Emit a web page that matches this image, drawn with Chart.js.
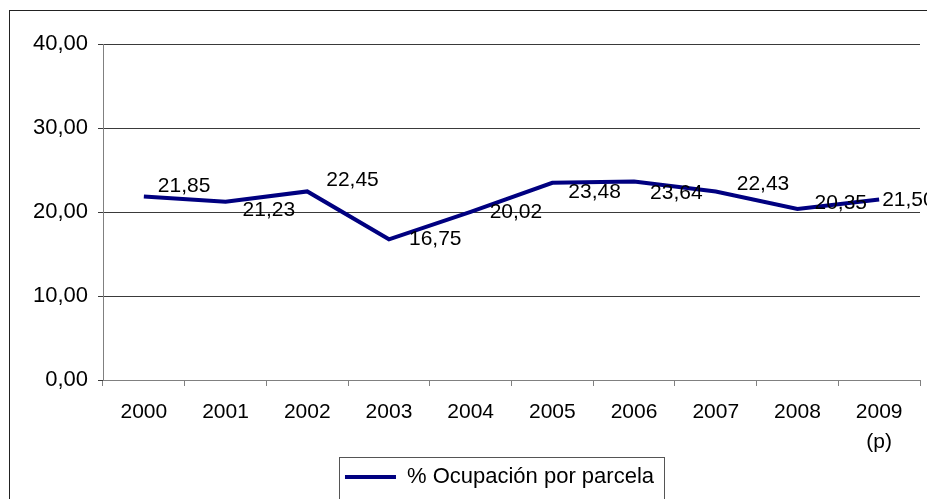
<!DOCTYPE html>
<html>
<head>
<meta charset="utf-8">
<script src="https://cdn.jsdelivr.net/npm/chart.js@4.4.1/dist/chart.umd.min.js"></script>
<style>
  html, body { margin: 0; padding: 0; background: #fff; }
  canvas { display: block; }
</style>
</head>
<body>
<canvas id="ocupacion" width="927" height="499"></canvas>
<script>
var years = ["2000", "2001", "2002", "2003", "2004", "2005", "2006", "2007", "2008", ["2009", "(p)"]];
var ocupacion = [21.85, 21.23, 22.45, 16.75, 20.02, 23.48, 23.64, 22.43, 20.35, 21.50];
var serieName = "% Ocupación por parcela";

function coma(v) {
    return Number(v).toFixed(2).replace(".", ",");
}

// labels sit to the right of each point, nudged like in the original sheet
var labelDx = [14, 17, 19, 20, 19, 16, 16, 21, 17, 3];
var labelDy = [-10, 9, -11, 0, 0, 9, 12, -7, -6, 1];

var valueLabels = {
    id: "valueLabels",
    afterDatasetsDraw: function (chart) {
        var ctx = chart.ctx;
        var meta = chart.getDatasetMeta(0);
        ctx.save();
        ctx.font = "21px 'Liberation Sans', Arial, sans-serif";
        ctx.fillStyle = "#000";
        ctx.textAlign = "left";
        ctx.textBaseline = "middle";
        meta.data.forEach(function (pt, i) {
            ctx.fillText(coma(chart.data.datasets[0].data[i]), pt.x + labelDx[i], pt.y + labelDy[i]);
        });
        ctx.restore();
    }
};

var frames = {
    id: "frames",
    afterLayout: function (chart) {
        // legend sits a bit left of the plot centre
        chart.legend.left -= 12;
        chart.legend.right -= 12;
    },
    afterDraw: function (chart) {
        var ctx = chart.ctx;
        ctx.save();
        ctx.lineWidth = 1;
        ctx.strokeStyle = "#222";
        ctx.strokeRect(9.5, 10.5, 1200, 1200);
        var hb = chart.legend.legendHitBoxes[0];
        if (hb) {
            ctx.strokeStyle = "#555";
            var l = Math.round(hb.left - 6) + 0.5;
            var t = Math.round(hb.top - 9) + 0.5;
            var r = Math.round(hb.left + hb.width + 10) + 0.5;
            ctx.strokeRect(l, t, r - l, 60);
        }
        ctx.restore();
    }
};

Chart.defaults.font.family = "'Liberation Sans', Arial, sans-serif";
Chart.defaults.color = "#000";

new Chart("ocupacion", {
    type: "line",
    data: {
        labels: years,
        datasets: [{
            label: serieName,
            data: ocupacion,
            borderColor: "#000080",
            backgroundColor: "#000080",
            borderWidth: 4,
            pointRadius: 0,
            pointHoverRadius: 0,
            tension: 0,
            fill: false
        }]
    },
    options: {
        responsive: false,
        animation: false,
        devicePixelRatio: 1,
        layout: {
            padding: { left: 0, right: 7, top: 44, bottom: 1 }
        },
        scales: {
            x: {
                offset: true,
                grid: {
                    display: true,
                    drawOnChartArea: false,
                    drawTicks: true,
                    tickLength: 6,
                    color: "#808080",
                    offset: true
                },
                border: { display: true, color: "#808080", width: 1 },
                ticks: {
                    padding: 11,
                    maxRotation: 0,
                    autoSkip: false,
                    font: { size: 21, lineHeight: 1.45 }
                },
                afterFit: function (scale) { scale.height = 76; }
            },
            y: {
                min: 0,
                max: 40,
                grid: {
                    color: "#3a3a3a",
                    drawTicks: true,
                    tickLength: 5
                },
                border: { display: true, color: "#808080", width: 1 },
                ticks: {
                    stepSize: 10,
                    padding: 10,
                    font: { size: 22 },
                    callback: function (v) { return coma(v); }
                },
                afterFit: function (scale) { scale.width = 103; }
            }
        },
        plugins: {
            tooltip: { enabled: false },
            legend: {
                display: true,
                position: "bottom",
                align: "center",
                fullSize: false,
                labels: {
                    usePointStyle: true,
                    pointStyle: "line",
                    pointStyleWidth: 51,
                    boxHeight: 22,
                    padding: 10,
                    color: "#000",
                    font: { size: 22 }
                }
            }
        }
    },
    plugins: [valueLabels, frames]
});
</script>
</body>
</html>
